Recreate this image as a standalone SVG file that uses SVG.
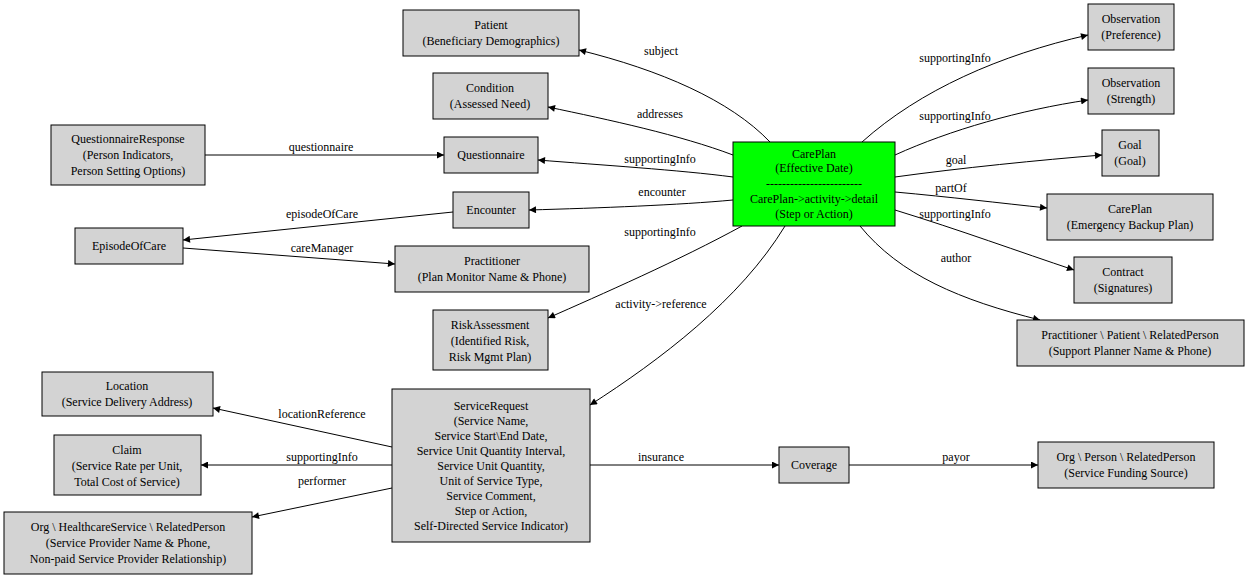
<svg xmlns="http://www.w3.org/2000/svg" width="1248" height="579" viewBox="0 0 1248 579">
<style>
text{font-family:"Liberation Serif","Times New Roman",serif;font-size:12px;fill:#000}
.n rect{fill:#d3d3d3;stroke:#000;stroke-width:1}
.n text{text-anchor:middle}
#edges path{fill:none;stroke:#000;stroke-width:1;marker-end:url(#a)}
#labels text{text-anchor:middle}
</style>
<defs><marker id="a" viewBox="0 0 10 10" refX="10" refY="5" markerWidth="10" markerHeight="7" markerUnits="userSpaceOnUse" orient="auto"><path d="M0,0L10,5L0,10z" fill="#000"/></marker></defs>
<rect width="1248" height="579" fill="#fff"/>
<g id="edges">
<path d="M770,142C730,100 660,70 579,50"/>
<path d="M733,155C680,135 610,120 548,107"/>
<path d="M733,177C680,170 600,165 538,160"/>
<path d="M733,200C680,205 600,208 529,210"/>
<path d="M742,226C680,260 600,295 548,318"/>
<path d="M785,226C740,300 660,360 590,405"/>
<path d="M862,142C920,90 1000,55 1088,35"/>
<path d="M895,155C950,130 1020,110 1088,100"/>
<path d="M895,177C960,168 1040,160 1102,155"/>
<path d="M895,192C950,197 1000,203 1047,208"/>
<path d="M895,210C960,230 1020,252 1074,270"/>
<path d="M860,226C900,275 960,300 1040,320"/>
<path d="M205,155L444,155"/>
<path d="M453,212L183,240"/>
<path d="M183,248L395,264"/>
<path d="M392,447L213,408"/>
<path d="M392,465L201,465"/>
<path d="M392,488L252,517"/>
<path d="M590,465L779,465"/>
<path d="M849,465L1038,465"/>
</g>
<g id="labels">
<text x="661" y="55">subject</text>
<text x="660" y="118">addresses</text>
<text x="660" y="163">supportingInfo</text>
<text x="662" y="196">encounter</text>
<text x="660" y="236">supportingInfo</text>
<text x="661" y="308">activity-&gt;reference</text>
<text x="955" y="62">supportingInfo</text>
<text x="955" y="120">supportingInfo</text>
<text x="956" y="164">goal</text>
<text x="951" y="192">partOf</text>
<text x="955" y="218">supportingInfo</text>
<text x="956" y="262">author</text>
<text x="321" y="151">questionnaire</text>
<text x="322" y="218">episodeOfCare</text>
<text x="322" y="252">careManager</text>
<text x="322" y="418">locationReference</text>
<text x="322" y="461">supportingInfo</text>
<text x="322" y="485">performer</text>
<text x="661" y="461">insurance</text>
<text x="956" y="461">payor</text>
</g>
<g id="careplan" class="n"><rect x="733" y="142" width="162" height="84" style="fill:#00ff00"/><text x="814" y="158">CarePlan</text><text x="814" y="172">(Effective Date)</text><text x="814" y="188">------------------------</text><text x="814" y="203">CarePlan-&gt;activity-&gt;detail</text><text x="814" y="218">(Step or Action)</text></g>
<g id="patient" class="n"><rect x="403" y="10" width="176" height="46"/><text x="491" y="29">Patient</text><text x="491" y="45">(Beneficiary Demographics)</text></g>
<g id="condition" class="n"><rect x="433" y="73" width="115" height="46"/><text x="490" y="92">Condition</text><text x="490" y="108">(Assessed Need)</text></g>
<g id="qr" class="n"><rect x="51" y="125" width="154" height="60"/><text x="128" y="143">QuestionnaireResponse</text><text x="128" y="159">(Person Indicators,</text><text x="128" y="175">Person Setting Options)</text></g>
<g id="questionnaire" class="n"><rect x="444" y="137" width="94" height="36"/><text x="491" y="159">Questionnaire</text></g>
<g id="encounter" class="n"><rect x="453" y="192" width="76" height="36"/><text x="491" y="214">Encounter</text></g>
<g id="episode" class="n"><rect x="75" y="228" width="108" height="36"/><text x="129" y="250">EpisodeOfCare</text></g>
<g id="practitioner1" class="n"><rect x="395" y="246" width="194" height="46"/><text x="492" y="265">Practitioner</text><text x="492" y="281">(Plan Monitor Name &amp; Phone)</text></g>
<g id="risk" class="n"><rect x="433" y="310" width="115" height="60"/><text x="490" y="329">RiskAssessment</text><text x="490" y="345">(Identified Risk,</text><text x="490" y="361">Risk Mgmt Plan)</text></g>
<g id="obs1" class="n"><rect x="1088" y="4" width="86" height="46"/><text x="1131" y="23">Observation</text><text x="1131" y="39">(Preference)</text></g>
<g id="obs2" class="n"><rect x="1088" y="68" width="86" height="46"/><text x="1131" y="87">Observation</text><text x="1131" y="103">(Strength)</text></g>
<g id="goal" class="n"><rect x="1102" y="130" width="57" height="46"/><text x="1130" y="149">Goal</text><text x="1130" y="165">(Goal)</text></g>
<g id="careplan2" class="n"><rect x="1047" y="194" width="166" height="46"/><text x="1130" y="213">CarePlan</text><text x="1130" y="229">(Emergency Backup Plan)</text></g>
<g id="contract" class="n"><rect x="1074" y="257" width="98" height="46"/><text x="1123" y="276">Contract</text><text x="1123" y="292">(Signatures)</text></g>
<g id="author" class="n"><rect x="1017" y="320" width="227" height="46"/><text x="1130" y="339">Practitioner \ Patient \ RelatedPerson</text><text x="1130" y="355">(Support Planner Name &amp; Phone)</text></g>
<g id="location" class="n"><rect x="42" y="372" width="171" height="44"/><text x="127" y="390">Location</text><text x="127" y="406">(Service Delivery Address)</text></g>
<g id="claim" class="n"><rect x="54" y="435" width="147" height="60"/><text x="127" y="454">Claim</text><text x="127" y="470">(Service Rate per Unit,</text><text x="127" y="486">Total Cost of Service)</text></g>
<g id="org1" class="n"><rect x="4" y="512" width="248" height="62"/><text x="128" y="531">Org \ HealthcareService \ RelatedPerson</text><text x="128" y="547">(Service Provider Name &amp; Phone,</text><text x="128" y="563">Non-paid Service Provider Relationship)</text></g>
<g id="servicerequest" class="n"><rect x="392" y="389" width="198" height="153"/><text x="491" y="410">ServiceRequest</text><text x="491" y="425">(Service Name,</text><text x="491" y="440">Service Start\End Date,</text><text x="491" y="455">Service Unit Quantity Interval,</text><text x="491" y="470">Service Unit Quantity,</text><text x="491" y="485">Unit of Service Type,</text><text x="491" y="500">Service Comment,</text><text x="491" y="515">Step or Action,</text><text x="491" y="530">Self-Directed Service Indicator)</text></g>
<g id="coverage" class="n"><rect x="779" y="447" width="70" height="36"/><text x="814" y="469">Coverage</text></g>
<g id="org2" class="n"><rect x="1038" y="442" width="176" height="46"/><text x="1126" y="461">Org \ Person \ RelatedPerson</text><text x="1126" y="477">(Service Funding Source)</text></g>
</svg>
